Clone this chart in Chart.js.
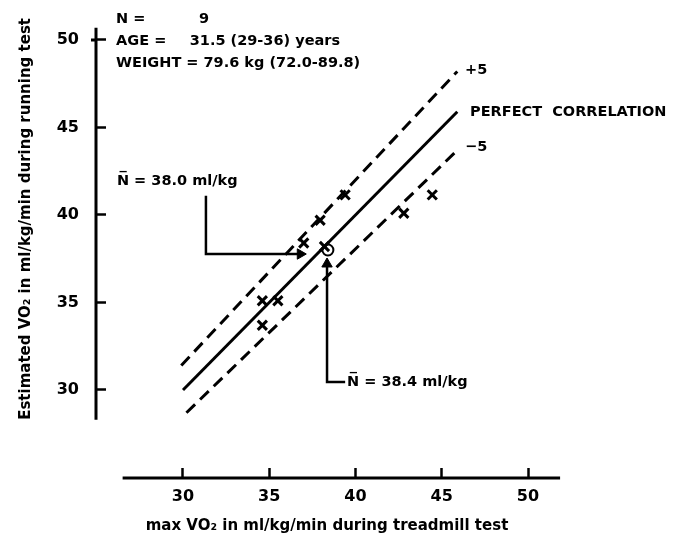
<!DOCTYPE html>
<html>
<head>
<meta charset="utf-8">
<script src="https://cdn.jsdelivr.net/npm/chart.js@4.4.1/dist/chart.umd.min.js"></script>
<style>
  html, body { margin: 0; padding: 0; background: #fff; }
  #wrap { width: 682px; height: 554px; }
</style>
</head>
<body>
<div id="wrap"><canvas id="vo2Chart" width="682" height="554"></canvas></div>
<script>
/* global Chart */

// the nine subjects: max VO2 on treadmill (x) vs estimate from running test (y)
const treadmillVO2 = [39.4, 37.95, 37.0, 38.2, 34.6, 35.5, 34.6, 44.45, 42.8];
const estimatedVO2 = [41.15, 39.7, 38.4, 38.2, 35.1, 35.1, 33.7, 41.15, 40.1];

const meanTreadmill = [38.4];
const meanEstimated = [38.0];

// reference lines, end points
const perfectX = [30, 45.9];
const perfectY = [30, 45.9];
const plusFiveX = [29.9, 45.9];
const plusFiveY = [31.4, 48.2];
const minusFiveX = [30.2, 45.9];
const minusFiveY = [28.7, 43.7];

// arrows pointing at the mean
const arrowEstX = [31.33, 31.33, 36.8];
const arrowEstY = [41.1, 37.77, 37.77];
const arrowTrdX = [38.35, 38.35, 39.4];
const arrowTrdY = [37.2, 30.45, 30.45];

const xTicks = [30, 35, 40, 45, 50];
const yTicks = [30, 35, 40, 45, 50];

// how far the drawn axis lines reach (data units)
const yAxisSpan = [28.3, 50.7];
const xAxisSpan = [26.5, 51.86];

const notes = [
  { text: "N =", x: 26.12, y: 51.2 },
  { text: "9", x: 30.93, y: 51.2 },
  { text: "AGE =", x: 26.12, y: 49.94 },
  { text: "31.5 (29-36) years", x: 30.39, y: 49.94 },
  { text: "WEIGHT = 79.6 kg (72.0-89.8)", x: 26.12, y: 48.69 },
  { text: "+5", x: 46.35, y: 48.29 },
  { text: "PERFECT  CORRELATION", x: 46.64, y: 45.89 },
  { text: "\u22125", x: 46.35, y: 43.89 },
  { text: "N\u0305 = 38.0 ml/kg", x: 26.17, y: 41.94 },
  { text: "N\u0305 = 38.4 ml/kg", x: 39.51, y: 30.45 },
];

const toPoints = (xs, ys) => xs.map((v, i) => ({ x: v, y: ys[i] }));

const FONT = '"DejaVu Sans", "Liberation Sans", sans-serif';
Chart.defaults.color = "#000";
Chart.defaults.font.family = FONT;

const figureMarks = {
  id: "figureMarks",
  beforeDatasetsDraw(chart) {
    const { ctx, chartArea } = chart;
    const x = chart.scales.x;
    const y = chart.scales.y;
    ctx.save();
    ctx.strokeStyle = "#000";
    ctx.lineWidth = 3;
    ctx.beginPath();
    ctx.moveTo(chartArea.left, y.getPixelForValue(yAxisSpan[1]));
    ctx.lineTo(chartArea.left, y.getPixelForValue(yAxisSpan[0]));
    ctx.moveTo(x.getPixelForValue(xAxisSpan[0]), chartArea.bottom);
    ctx.lineTo(x.getPixelForValue(xAxisSpan[1]), chartArea.bottom);
    // top tick crosses the axis
    const topTick = y.getPixelForValue(yTicks[yTicks.length - 1]);
    ctx.moveTo(chartArea.left - 5, topTick);
    ctx.lineTo(chartArea.left, topTick);
    ctx.stroke();
    ctx.restore();
  },
  afterDatasetsDraw(chart) {
    const { ctx } = chart;
    const x = chart.scales.x;
    const y = chart.scales.y;
    ctx.save();
    ctx.fillStyle = "#000";
    ctx.font = "bold 14.5px " + FONT;
    ctx.textAlign = "left";
    ctx.textBaseline = "middle";
    notes.forEach((n) => {
      ctx.fillText(n.text, x.getPixelForValue(n.x), y.getPixelForValue(n.y));
    });
    ctx.restore();
  },
};

new Chart(document.getElementById("vo2Chart"), {
  type: "scatter",
  data: {
    datasets: [
      {
        data: toPoints(treadmillVO2, estimatedVO2),
        pointStyle: "crossRot",
        pointRadius: 6.5,
        borderColor: "#000",
        borderWidth: 3,
      },
      {
        data: toPoints(meanTreadmill, meanEstimated),
        pointStyle: "circle",
        pointRadius: 5.5,
        borderColor: "#000",
        backgroundColor: "rgba(0,0,0,0)",
        borderWidth: 2,
      },
      {
        data: toPoints(perfectX, perfectY),
        showLine: true,
        pointRadius: 0,
        borderColor: "#000",
        borderWidth: 3,
      },
      {
        data: toPoints(plusFiveX, plusFiveY),
        showLine: true,
        pointRadius: 0,
        borderColor: "#000",
        borderWidth: 3,
        borderDash: [12, 7],
      },
      {
        data: toPoints(minusFiveX, minusFiveY),
        showLine: true,
        pointRadius: 0,
        borderColor: "#000",
        borderWidth: 3,
        borderDash: [12, 7],
      },
      {
        data: toPoints(arrowEstX, arrowEstY),
        showLine: true,
        borderColor: "#000",
        backgroundColor: "#000",
        borderWidth: 2.5,
        pointStyle: "triangle",
        pointRadius: [0, 0, 6],
        pointRotation: [0, 0, 90],
        pointBorderWidth: 1,
      },
      {
        data: toPoints(arrowTrdX, arrowTrdY),
        showLine: true,
        borderColor: "#000",
        backgroundColor: "#000",
        borderWidth: 2.5,
        pointStyle: "triangle",
        pointRadius: [6, 0, 0],
        pointRotation: [0, 0, 0],
        pointBorderWidth: 1,
      },
    ],
  },
  options: {
    responsive: false,
    animation: false,
    devicePixelRatio: 1,
    layout: { padding: { top: 18, right: 124, bottom: 0, left: 0 } },
    plugins: {
      legend: { display: false },
      tooltip: { enabled: false },
    },
    scales: {
      x: {
        type: "linear",
        position: "bottom",
        min: 24.957,
        max: 51.739,
        afterBuildTicks: (scale) => {
          scale.ticks = xTicks.map((v) => ({ value: v }));
        },
        afterFit: (scale) => {
          scale.height = 76;
          scale.paddingLeft = 0;
          scale.paddingRight = 0;
        },
        border: { display: false },
        grid: {
          drawOnChartArea: false,
          drawTicks: true,
          tickLength: -10,
          tickWidth: 2.5,
          tickColor: "#000",
        },
        ticks: {
          padding: 19,
          font: { size: 16, weight: "bold" },
        },
        title: {
          display: true,
          text: "max VO\u2082 in ml/kg/min during treadmill test",
          font: { size: 15, weight: "bold" },
          padding: { top: 0, bottom: 19 },
        },
      },
      y: {
        type: "linear",
        position: "left",
        min: 24.971,
        max: 51.257,
        afterBuildTicks: (scale) => {
          scale.ticks = yTicks.map((v) => ({ value: v }));
        },
        afterFit: (scale) => {
          scale.width = 96;
          scale.paddingTop = 0;
          scale.paddingBottom = 0;
        },
        border: { display: false },
        grid: {
          drawOnChartArea: false,
          drawTicks: true,
          tickLength: -10,
          tickWidth: 2.5,
          tickColor: "#000",
        },
        ticks: {
          padding: 27,
          font: { size: 16, weight: "bold" },
        },
        title: {
          display: true,
          align: "end",
          text: "Estimated VO\u2082 in ml/kg/min during running test",
          font: { size: 15, weight: "bold" },
          padding: { top: 17, bottom: 0 },
        },
      },
    },
  },
  plugins: [figureMarks],
});
</script>
</body>
</html>
